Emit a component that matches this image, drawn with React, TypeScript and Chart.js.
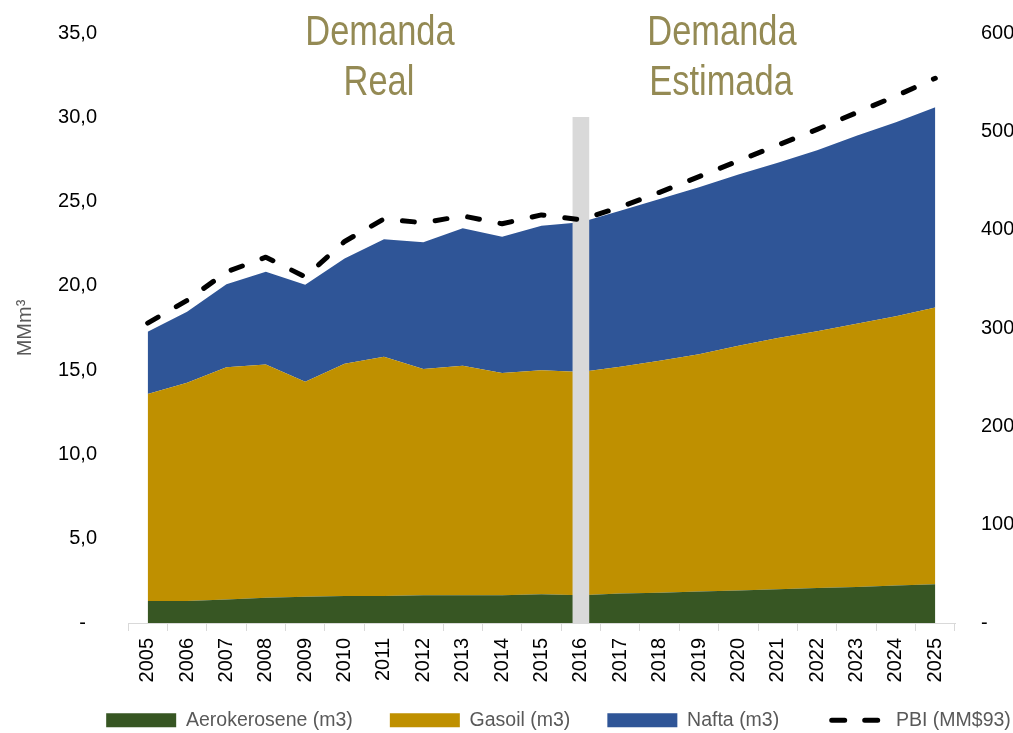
import React, { useEffect, useRef } from 'react';
import { Chart, registerables } from 'chart.js';

Chart.register(...registerables);

// ---------- data ----------
const years = [
  '2005', '2006', '2007', '2008', '2009', '2010', '2011', '2012', '2013', '2014', '2015',
  '2016', '2017', '2018', '2019', '2020', '2021', '2022', '2023', '2024', '2025',
];

// MMm3 (stacked)
const aerokerosene = [1.3, 1.3, 1.4, 1.5, 1.55, 1.6, 1.6, 1.65, 1.65, 1.65, 1.7, 1.65, 1.75, 1.8, 1.87, 1.93, 2.0, 2.07, 2.14, 2.22, 2.3];
const gasoil = [12.28, 12.95, 13.77, 13.84, 12.76, 13.78, 14.2, 13.42, 13.61, 13.18, 13.3, 13.24, 13.45, 13.75, 14.08, 14.52, 14.9, 15.23, 15.61, 15.98, 16.42];
const nafta = [3.7, 4.21, 4.93, 5.5, 5.76, 6.25, 6.96, 7.51, 8.15, 8.08, 8.57, 8.88, 9.25, 9.6, 9.9, 10.15, 10.4, 10.75, 11.15, 11.5, 11.88];

// PBI (MM$93), right axis
const pbi = [305, 328, 357, 372, 352, 388, 411, 407, 414, 406, 415, 410, 423, 438, 454, 470, 486, 502, 519, 536, 554];

// Separator between real and estimated demand (left axis)
const separator = [null, null, null, null, null, null, null, null, null, null, null, 30, null, null, null, null, null, null, null, null, null];

const seriesLabels = ['Aerokerosene (m3)', 'Gasoil (m3)', 'Nafta (m3)', 'PBI (MM$93)'];
const headerTexts = [
  ['Demanda', 'Real'],
  ['Demanda', 'Estimada'],
];

const leftMax = 35;
const leftStep = 5;
const rightMax = 600;
const rightStep = 100;

// ---------- layout constants ----------
const W = 1117;
const H = 740;
const CHART_LEFT = 128;
const CHART_RIGHT = 955;

const COLORS = {
  aero: '#375623',
  gasoil: '#bf9000',
  nafta: '#2f5597',
  pbi: '#000000',
  sep: '#d9d9d9',
  header: '#948a54',
  legend: '#595959',
};

export default function App() {
  const ref = useRef<HTMLCanvasElement>(null);

  useEffect(() => {
    const canvas = ref.current;
    if (!canvas) return;

    const headerPlugin = {
      id: 'headerTexts',
      afterLayout(chart: any) {
        // let the rotated year labels extend below the x-axis box
        const sx = chart.scales.x;
        if (sx) sx.bottom = chart.height;
      },
      afterDraw(chart: any) {
        const c = chart.ctx as CanvasRenderingContext2D;
        c.save();
        c.fillStyle = COLORS.header;
        c.font = '42px "Liberation Sans", Arial, sans-serif';
        c.textAlign = 'center';
        c.textBaseline = 'alphabetic';
        const draw = (t: string, x: number, y: number) => {
          c.save();
          c.translate(x, y);
          c.scale(0.82, 1);
          c.fillText(t, 0, 0);
          c.restore();
        };
        draw(headerTexts[0][0], 380, 45);
        draw(headerTexts[0][1], 379, 95);
        draw(headerTexts[1][0], 722, 45);
        draw(headerTexts[1][1], 721, 95);
        c.restore();
      },
    };

    const tickFont = { family: '"Liberation Sans", Arial, sans-serif', size: 20 };

    const chart = new Chart(canvas, {
      type: 'line',
      data: {
        labels: years,
        datasets: [
          {
            label: seriesLabels[0],
            data: aerokerosene,
            yAxisID: 'y',
            fill: 'origin',
            backgroundColor: COLORS.aero,
            borderColor: 'rgba(0,0,0,0)',
            borderWidth: 0,
            pointRadius: 0,
            tension: 0,
            order: 3,
          },
          {
            label: seriesLabels[1],
            data: gasoil,
            yAxisID: 'y',
            fill: '-1',
            backgroundColor: COLORS.gasoil,
            borderColor: 'rgba(0,0,0,0)',
            borderWidth: 0,
            pointRadius: 0,
            tension: 0,
            order: 3,
          },
          {
            label: seriesLabels[2],
            data: nafta,
            yAxisID: 'y',
            fill: '-1',
            backgroundColor: COLORS.nafta,
            borderColor: 'rgba(0,0,0,0)',
            borderWidth: 0,
            pointRadius: 0,
            tension: 0,
            order: 3,
          },
          {
            label: seriesLabels[3],
            data: pbi,
            yAxisID: 'y1',
            fill: false,
            borderColor: COLORS.pbi,
            backgroundColor: COLORS.pbi,
            borderWidth: 5,
            borderDash: [12, 21],
            borderCapStyle: 'round',
            borderJoinStyle: 'round',
            pointRadius: 0,
            tension: 0,
            order: 1,
          },
          {
            type: 'bar',
            label: 'separador',
            data: separator as any,
            yAxisID: 'y',
            backgroundColor: COLORS.sep,
            borderWidth: 0,
            barThickness: 16,
            order: 2,
          } as any,
        ],
      },
      options: {
        responsive: false,
        animation: false,
        devicePixelRatio: 1,
        layout: { padding: { top: 33, left: 0, right: 0, bottom: 0 } },
        plugins: {
          tooltip: { enabled: false },
          legend: {
            position: 'bottom',
            labels: {
              usePointStyle: true,
              pointStyleWidth: 70,
              boxHeight: 14,
              padding: 37,
              color: COLORS.legend,
              font: { family: '"Liberation Sans", Arial, sans-serif', size: 19.5 },
              sort: (a: any, b: any) => a.datasetIndex - b.datasetIndex,
              filter: (item: any) => item.datasetIndex !== 4,
              generateLabels: (ch: any) => {
                const items = (Chart.defaults.plugins.legend.labels as any).generateLabels(ch);
                return items.map((it: any) => {
                  if (it.datasetIndex === 3) {
                    return {
                      ...it,
                      pointStyle: 'line',
                      rotation: 0,
                      lineWidth: 5,
                      strokeStyle: COLORS.pbi,
                      fillStyle: COLORS.pbi,
                      lineDash: [13, 20],
                      lineDashOffset: 17.5,
                      lineCap: 'round',
                    };
                  }
                  return {
                    ...it,
                    pointStyle: 'rect',
                    rotation: 0,
                    lineWidth: 0,
                    strokeStyle: it.fillStyle,
                    lineDash: [],
                  };
                });
              },
            },
          },
        },
        scales: {
          x: {
            type: 'category',
            offset: true,
            grid: {
              display: true,
              drawOnChartArea: false,
              drawTicks: true,
              tickLength: 8,
              offset: true,
              color: '#d9d9d9',
            },
            border: { display: true, color: '#d9d9d9', width: 1 },
            ticks: {
              autoSkip: false,
              minRotation: 90,
              maxRotation: 90,
              padding: 7,
              color: '#000000',
              font: tickFont,
            },
            afterFit: (s: any) => {
              s.height = 50.5;
            },
          },
          y: {
            type: 'linear',
            position: 'left',
            stacked: true,
            min: 0,
            max: leftMax,
            grid: { display: false, drawTicks: true, tickLength: 31 },
            border: { display: false },
            ticks: {
              stepSize: leftStep,
              padding: 0,
              color: '#000000',
              font: tickFont,
              callback: (v: any) => (Number(v) === 0 ? '-  ' : Number(v).toFixed(1).replace('.', ',')),
            },
            title: {
              display: true,
              text: 'MMm³',
              color: COLORS.legend,
              font: { family: '"Liberation Sans", Arial, sans-serif', size: 20 },
              padding: { top: 13, bottom: 0 },
            },
            afterFit: (s: any) => {
              s.width = CHART_LEFT;
            },
          },
          y1: {
            type: 'linear',
            position: 'right',
            min: 0,
            max: rightMax,
            grid: { display: false, drawTicks: true, tickLength: 26 },
            border: { display: false },
            ticks: {
              stepSize: rightStep,
              padding: 0,
              color: '#000000',
              font: tickFont,
              callback: (v: any) => (Number(v) === 0 ? '-' : String(v)),
            },
            afterFit: (s: any) => {
              s.width = W - CHART_RIGHT;
            },
          },
        },
      } as any,
      plugins: [headerPlugin],
    });

    return () => chart.destroy();
  }, []);

  return (
    <div
      style={{
        position: 'fixed',
        left: 0,
        top: 0,
        width: 1013,
        height: 733,
        overflow: 'hidden',
        background: '#ffffff',
      }}
    >
      <canvas ref={ref} width={W} height={H} style={{ display: 'block', width: W, height: H }} />
    </div>
  );
}
